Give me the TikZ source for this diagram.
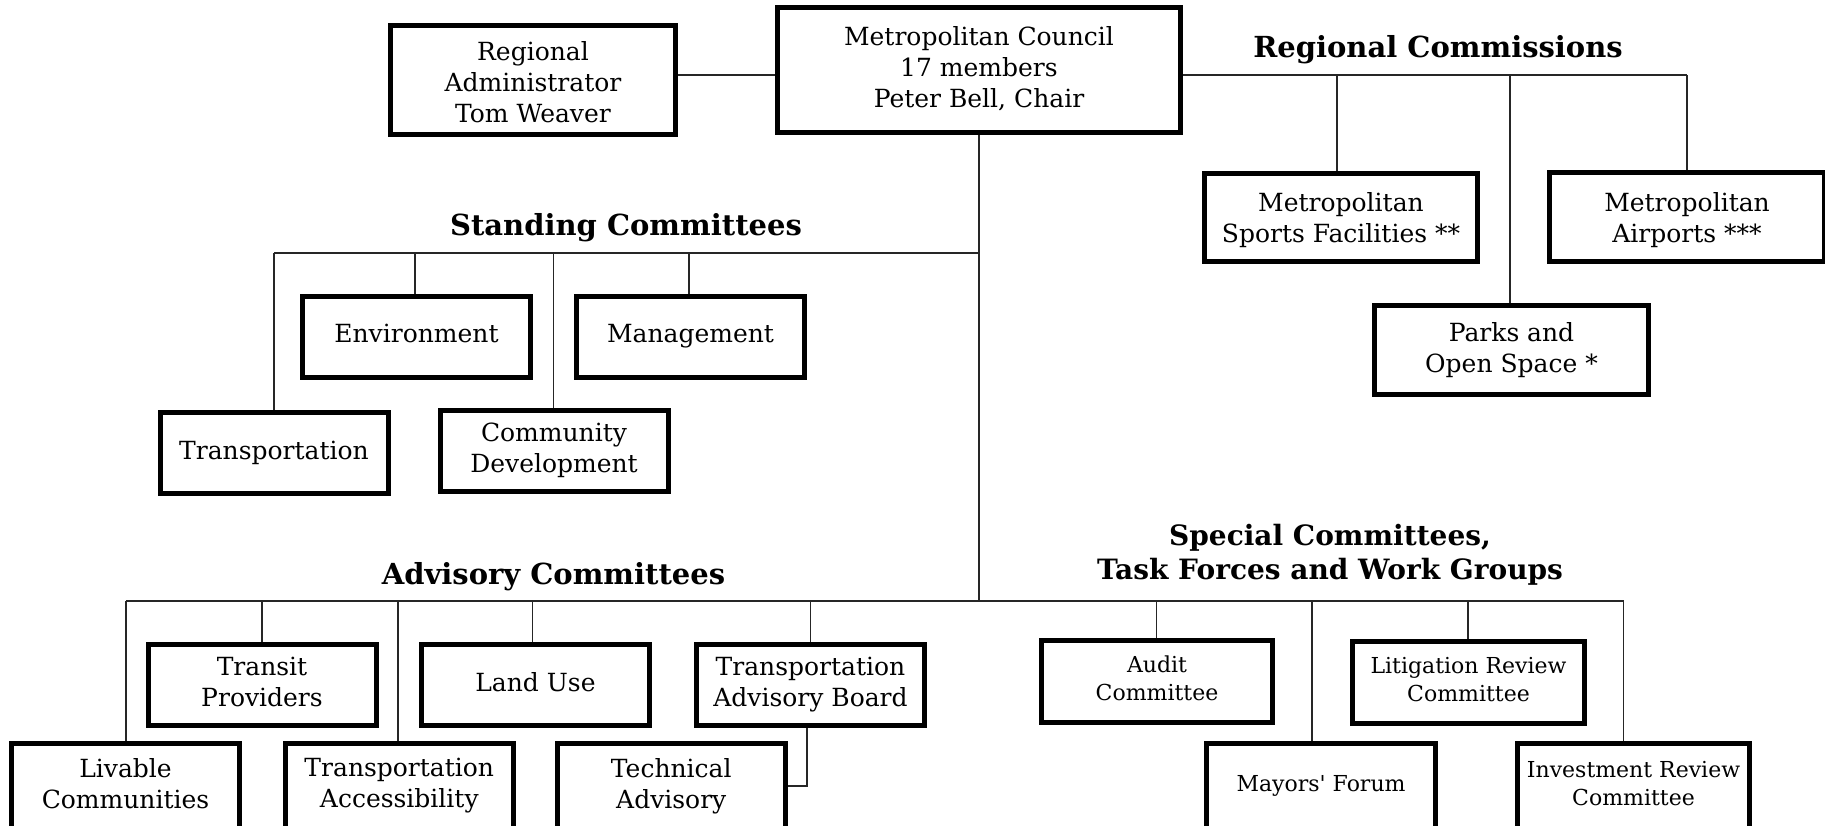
\documentclass[tikz,border=0pt]{standalone}
\usepackage{fontspec}
\setmainfont{DejaVu Serif}
\newcommand\bxfont{\fontsize{12.5pt}{15.5pt}\selectfont}
\newcommand\smfont{\fontsize{11pt}{14pt}\selectfont}
\newcommand\hdfont{\fontsize{14.5pt}{17pt}\selectfont\bfseries}
\newcommand\spfont{\fontsize{14pt}{17pt}\selectfont\bfseries}
\newcommand\capstrut{\rule[-0.24em]{0pt}{0.96em}}
\tikzset{
  box/.style={draw, line width=2.5pt, rectangle, inner sep=0pt, align=center, font=\bxfont,
    execute at begin node=\capstrut, execute at end node=\capstrut},
  stdbox/.style={box, minimum width=114pt, minimum height=40.5pt},
  lowbox/.style={box, minimum width=114pt, minimum height=43pt},
  smbox/.style={box, font=\smfont, minimum height=41pt},
  conn/.style={line width=0.6pt, draw=black!85},
  hdlbl/.style={font=\hdfont, inner sep=0pt, align=center}
}
\begin{document}
\begin{tikzpicture}[x=0.5pt,y=-0.5pt]
\useasboundingbox (0,0) rectangle (1825,825);
\fill[white] (0,0) rectangle (1825,825);
\clip (0,0) rectangle (1825,825);

% top level
\node[box, minimum width=142.5pt, minimum height=54.5pt] (admin) at (533,80) {\rule{0pt}{14.2pt}Regional\\Administrator\\Tom Weaver};
\node[box, minimum width=201.5pt, minimum height=62.5pt] (council) at (979,70) {Metropolitan Council\\17 members\\Peter Bell, Chair};

% regional commissions
\node[hdlbl] (rclbl) at (1438,50) {Regional Commissions};
\node[box, minimum width=136.5pt, minimum height=44pt] (sports) at (1341,217.5) {\rule{0pt}{12.8pt}Metropolitan\\Sports Facilities **};
\node[box, minimum width=137.5pt, minimum height=44.5pt] (airports) at (1687,217) {\rule{0pt}{12.8pt}Metropolitan\\Airports ***};
\node[box, minimum width=137pt, minimum height=44.5pt] (parks) at (1511.5,350) {Parks and\\Open Space *};

% standing committees
\node[hdlbl] (stlbl) at (626,228) {Standing Committees};
\node[stdbox] (env) at (416.5,336.5) {Environment};
\node[stdbox] (mgmt) at (690.5,336.5) {Management};
\node[stdbox] (transp) at (274,453) {Transportation};
\node[stdbox] (commdev) at (554,450.5) {Community\\Development};

% advisory committees
\node[hdlbl] (advlbl) at (553.5,577) {Advisory Committees};
\node[stdbox] (transit) at (262,685) {Transit\\Providers};
\node[stdbox] (landuse) at (535.5,685) {Land Use};
\node[stdbox] (tab) at (810.5,685) {Transportation\\Advisory Board};
\node[lowbox] (livable) at (125.5,786) {Livable\\Communities};
\node[lowbox] (access) at (399.3,786) {Transportation\\Accessibility};
\node[lowbox] (technical) at (671.3,786) {Technical\\Advisory};

% special committees
\node[hdlbl, font=\spfont] (splbl) at (1330,555) {Special Committees,\\Task Forces and Work Groups};
\node[smbox, minimum width=115.5pt] (audit) at (1157,681) {Audit\\Committee};
\node[smbox, minimum width=116pt] (litig) at (1468.5,682.5) {Litigation Review\\Committee};
\node[smbox, minimum width=114.5pt, minimum height=43pt] (mayors) at (1321,786) {Mayors\textquotesingle{} Forum};
\node[smbox, minimum width=116pt, minimum height=43pt] (invest) at (1633.5,786) {Investment Review\\Committee};

% coordinates for connector levels
\coordinate (ytop) at (0,75);
\coordinate (yst) at (0,253);
\coordinate (yadv) at (0,601);
\coordinate (rsA) at (1337,75);
\coordinate (rsB) at (1510,75);
\coordinate (rsC) at (1687,75);
\coordinate (stA) at (274,253);
\coordinate (stB) at (415,253);
\coordinate (stC) at (553.6,253);
\coordinate (stD) at (689,253);
\coordinate (adA) at (126,601);
\coordinate (adB) at (262,601);
\coordinate (adC) at (398,601);
\coordinate (adD) at (532.6,601);
\coordinate (adE) at (810.7,601);
\coordinate (spA) at (1156.5,601);
\coordinate (spB) at (1312,601);
\coordinate (spC) at (1468,601);
\coordinate (spD) at (1623.5,601);
\coordinate (tabT) at (807,786);

% connectors
\draw[conn] (admin.east |- ytop) -- (council.west |- ytop);
\draw[conn] (council.east |- ytop) -- (rsC);
\draw[conn] (rsA) -- (rsA |- sports.north);
\draw[conn] (rsB) -- (rsB |- parks.north);
\draw[conn] (rsC) -- (rsC |- airports.north);
\draw[conn] (council.south) -- (council.south |- yadv);
\draw[conn] (stA) -- (council.south |- yst);
\draw[conn] (stA) -- (stA |- transp.north);
\draw[conn] (stB) -- (stB |- env.north);
\draw[conn] (stC) -- (stC |- commdev.north);
\draw[conn] (stD) -- (stD |- mgmt.north);
\draw[conn] (adA) -- (spD);
\draw[conn] (adA) -- (adA |- livable.north);
\draw[conn] (adB) -- (adB |- transit.north);
\draw[conn] (adC) -- (adC |- access.north);
\draw[conn] (adD) -- (adD |- landuse.north);
\draw[conn] (adE) -- (adE |- tab.north);
\draw[conn] (spA) -- (spA |- audit.north);
\draw[conn] (spB) -- (spB |- mayors.north);
\draw[conn] (spC) -- (spC |- litig.north);
\draw[conn] (spD) -- (spD |- invest.north);
\draw[conn] (tabT |- tab.south) -- (tabT) -- (technical.east |- tabT);
\end{tikzpicture}
\end{document}
